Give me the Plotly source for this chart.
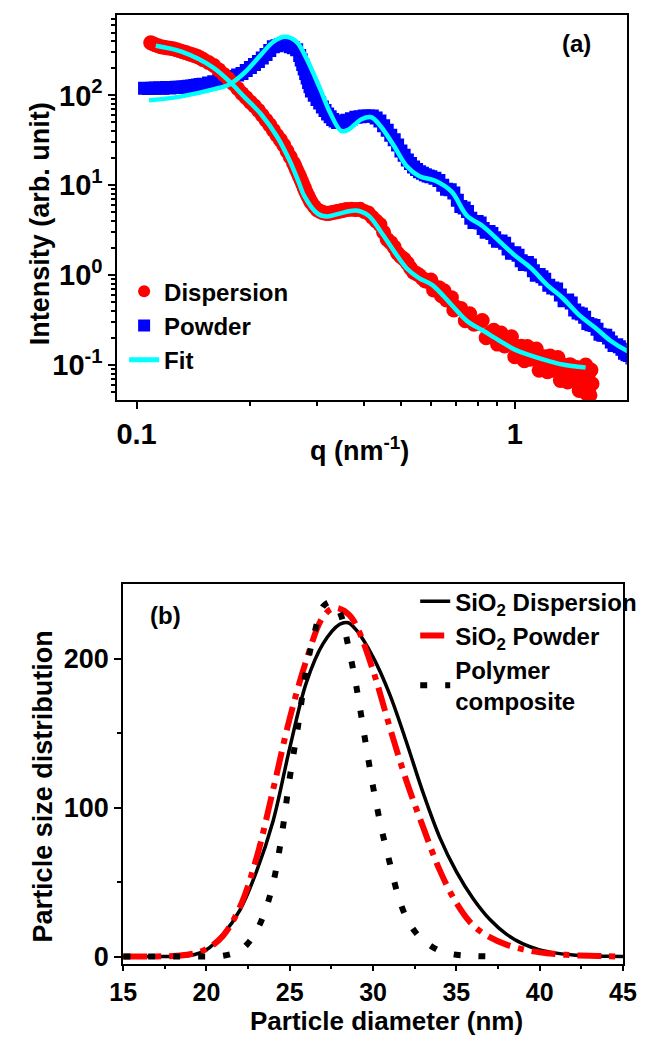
import plotly.graph_objects as go

# ---------------- panel (a): SAXS intensity vs q ----------------
q_disp = [0.109, 0.1105, 0.112, 0.114, 0.116, 0.118, 0.12, 0.1225, 0.125, 0.1275,
          0.13, 0.1325, 0.135, 0.1375, 0.14, 0.1425, 0.145, 0.1475, 0.15, 0.155,
          0.16, 0.165, 0.17, 0.175, 0.18, 0.185, 0.19, 0.195, 0.20, 0.205,
          0.21, 0.215, 0.22, 0.225, 0.23, 0.235, 0.24, 0.245, 0.25, 0.255,
          0.26, 0.2625, 0.265, 0.2675, 0.27, 0.2725, 0.275, 0.2775, 0.28, 0.2825,
          0.285, 0.2875, 0.29, 0.295, 0.30, 0.305, 0.31, 0.315, 0.32, 0.325,
          0.33, 0.335, 0.34, 0.345, 0.35, 0.355, 0.36, 0.37, 0.38, 0.39,
          0.40, 0.41, 0.42, 0.43, 0.44, 0.45, 0.46, 0.47, 0.48, 0.49,
          0.50, 0.51, 0.52, 0.53, 0.54, 0.55, 0.56, 0.57, 0.58, 0.59,
          0.60, 0.61, 0.62, 0.63, 0.64, 0.65, 0.66, 0.67, 0.68, 0.69,
          0.70, 0.72, 0.74, 0.76, 0.78, 0.80, 0.82, 0.84, 0.86, 0.88,
          0.90, 0.92, 0.94, 0.96, 0.98, 1.00, 1.02, 1.04, 1.06, 1.08,
          1.10, 1.12, 1.14, 1.16, 1.18, 1.20, 1.22, 1.24, 1.26, 1.28,
          1.30, 1.32, 1.34, 1.36, 1.38, 1.40, 1.42, 1.44, 1.46, 1.48,
          1.50, 1.52, 1.54, 1.55, 1.56, 1.57, 1.58, 1.59, 1.60]
i_disp = [385, 375, 366, 357, 348, 343, 339, 335, 331, 322,
          314, 306, 299, 291, 284, 277, 270, 260, 250, 232,
          215, 192, 171, 152, 136, 119, 105, 94, 84, 76,
          68, 60, 53, 47, 41, 36, 32, 28, 24, 20.6,
          17.7, 16.2, 14.8, 13.5, 12.4, 11.3, 10.3, 9.4, 8.5, 7.9,
          7.3, 6.8, 6.4, 5.8, 5.36, 5.15, 4.97, 4.9, 4.84, 4.9,
          4.97, 5.03, 5.10, 5.16, 5.23, 5.3, 5.36, 5.4, 5.36, 5.4,
          5.1, 4.9, 4.4, 4.0, 3.65, 3.0, 2.5, 2.3, 2.05, 1.75,
          1.6, 1.5, 1.36, 1.2, 1.08, 1.04, 0.99, 0.92, 0.86, 0.85,
          0.881, 0.684, 0.72, 0.726, 0.59, 0.670, 0.529, 0.538, 0.562, 0.410,
          0.44, 0.427, 0.312, 0.372, 0.284, 0.292, 0.313, 0.201, 0.229, 0.244,
          0.171, 0.227, 0.163, 0.178, 0.206, 0.124, 0.148, 0.162, 0.112, 0.161,
          0.116, 0.126, 0.151, 0.0877, 0.110, 0.124, 0.0841, 0.126, 0.0876, 0.0989,
          0.121, 0.0673, 0.086, 0.0988, 0.0648, 0.101, 0.068, 0.0777, 0.0937, 0.0522,
          0.067, 0.0869, 0.10, 0.048, 0.075, 0.055, 0.046, 0.088, 0.062]

q_powd = [0.105, 0.1075, 0.11, 0.1125, 0.115, 0.1175, 0.12, 0.1225, 0.125, 0.1275,
          0.13, 0.1325, 0.135, 0.1375, 0.14, 0.1425, 0.145, 0.1475, 0.15, 0.155,
          0.16, 0.165, 0.17, 0.175, 0.18, 0.185, 0.19, 0.195, 0.20, 0.205,
          0.21, 0.215, 0.22, 0.225, 0.23, 0.235, 0.24, 0.245, 0.25, 0.255,
          0.26, 0.265, 0.27, 0.2725, 0.275, 0.2775, 0.28, 0.2825, 0.285, 0.2875,
          0.29, 0.295, 0.30, 0.305, 0.31, 0.315, 0.32, 0.325, 0.33, 0.335,
          0.34, 0.345, 0.35, 0.355, 0.36, 0.37, 0.38, 0.39, 0.40, 0.41,
          0.42, 0.43, 0.44, 0.45, 0.46, 0.47, 0.48, 0.49, 0.50, 0.51,
          0.52, 0.53, 0.54, 0.55, 0.56, 0.57, 0.58, 0.59, 0.60, 0.615,
          0.63, 0.645, 0.66, 0.675, 0.69, 0.705, 0.72, 0.735, 0.75, 0.765,
          0.78, 0.795, 0.81, 0.825, 0.84, 0.855, 0.87, 0.885, 0.90, 0.92,
          0.94, 0.96, 0.98, 1.00, 1.02, 1.04, 1.06, 1.08, 1.10, 1.12,
          1.14, 1.16, 1.18, 1.20, 1.23, 1.26, 1.29, 1.32, 1.35, 1.38,
          1.41, 1.44, 1.47, 1.50, 1.53, 1.56, 1.59, 1.62, 1.65, 1.68,
          1.71, 1.74, 1.77, 1.80, 1.83, 1.86, 1.89, 1.92, 1.95, 1.98,
          2.01, 2.04]
i_powd = [120, 119, 120, 121, 121, 120, 122, 121, 122, 123,
          123, 124, 125, 126, 127, 129, 130, 132, 133, 137,
          142, 147, 152, 157, 162, 168, 175, 189, 204, 220,
          238, 260, 284, 315, 347, 357, 366, 376, 366, 347,
          339, 322, 277, 248, 220, 196, 175, 156, 139, 125,
          112, 100, 90, 82, 74, 68, 62, 58, 54, 52,
          50, 50, 50, 51, 53, 55, 57, 58, 59, 59,
          59, 56, 52, 46, 41, 36, 32, 28, 24, 21.5,
          19.1, 17.5, 16.0, 15.0, 14.1, 13.6, 13.1, 12.7, 12.4, 12.0,
          11.3, 10.0, 9.0, 8.9, 8.2, 6.8, 5.8, 5.6, 5.1, 4.3,
          3.85, 3.95, 3.8, 3.3, 3.0, 3.05, 2.9, 2.6, 2.38, 2.4,
          2.26, 1.95, 1.75, 1.78, 1.66, 1.45, 1.31, 1.38, 1.30, 1.12,
          1.0, 1.02, 0.96, 0.90, 0.77, 0.72, 0.70, 0.60, 0.52, 0.53,
          0.49, 0.41, 0.38, 0.37, 0.34, 0.29, 0.28, 0.275, 0.25, 0.22,
          0.215, 0.215, 0.20, 0.18, 0.165, 0.168, 0.16, 0.15, 0.135, 0.13,
          0.128, 0.12]

q_fit_disp = [0.1124, 0.1315, 0.1594, 0.176, 0.1932, 0.2134, 0.2356, 0.2542, 0.2694, 0.2773,
              0.301, 0.319, 0.3441, 0.38, 0.41, 0.442, 0.4797, 0.5175, 0.5582, 0.6056,
              0.6808, 0.747, 0.8251, 0.911, 1.0, 1.104, 1.219, 1.339, 1.539]
i_fit_disp = [357, 306, 204, 143, 95, 61.7, 34.4, 18.6, 10.4, 7.66,
              4.84, 4.49, 4.84, 5.23, 4.60, 3.06, 1.84, 1.195, 0.927, 0.775,
              0.466, 0.310, 0.2405, 0.1865, 0.1484, 0.1274, 0.1121, 0.1013, 0.0938]

q_fit_powd = [0.1079, 0.1315, 0.1594, 0.176, 0.1932, 0.2134, 0.2301, 0.2468, 0.2647, 0.2806,
              0.3062, 0.3245, 0.3481, 0.3648, 0.3935, 0.4173, 0.442, 0.4797, 0.5175, 0.5582,
              0.6164, 0.6808, 0.747, 0.8251, 0.911, 1.0, 1.104, 1.219, 1.339, 1.478,
              1.632, 1.791, 1.978, 2.1]
i_fit_powd = [88.1, 97.5, 116.5, 132.3, 179.5, 283.8, 395, 448.7, 395, 263,
              116.5, 64.9, 40.0, 42.1, 54.3, 57.1, 45.4, 27.3, 16.4, 12.7,
              11.2, 8.48, 4.60, 3.48, 2.38, 1.66, 1.195, 0.775, 0.557, 0.361,
              0.260, 0.1865, 0.1446, 0.13]

# ---------------- panel (b): particle size distributions ----------------
d_disp = [15, 16, 17, 18, 19, 20, 21, 22, 23, 24, 25, 26, 27, 28, 28.5, 29,
          30, 31, 32, 33, 34, 35, 36, 37, 38, 39, 40, 41, 42, 43, 44, 45]
p_disp = [0, 0, 0, 0.1, 0.6, 4.5, 15, 31, 57, 91, 140, 184, 210, 223, 224, 219,
          201, 176, 144, 110, 80, 57, 39, 25, 15, 8.5, 4.5, 2.3, 1.1, 0.5, 0.2, 0]

d_powd = [15, 16, 17, 18, 19, 20, 21, 22, 23, 24, 25, 26, 27, 27.7, 28.5, 29,
          30, 31, 32, 33, 34, 35, 36, 37, 38, 39, 40, 41, 42, 43, 44, 45]
p_powd = [0, 0, 0.1, 0.4, 1.5, 5, 14, 33, 66, 112, 160, 199, 228, 234, 230, 222,
          192, 154, 118, 87, 58, 36, 21, 13, 8, 4.8, 2.8, 1.6, 0.9, 0.5, 0.2, 0]

d_poly = [15, 16, 17, 18, 19, 20, 21, 22, 22.5, 23, 23.5, 24, 24.5, 25, 25.5, 26, 26.5,
          27, 27.5, 28, 28.5, 29, 29.5, 30, 30.5, 31, 31.5, 32, 32.5, 33, 34, 35, 36, 37]
p_poly = [0, 0, 0, 0, 0, 0, 0.5, 4, 9, 17, 30, 49, 80, 120, 155, 193, 218,
          235, 238, 231, 209, 181, 147, 114, 86, 63, 41, 26, 17, 11, 3.8, 1.2, 0.4, 0.1]

W, H = 659, 1042
FONT = "Liberation Sans, Arial, sans-serif"


def px(x):
    return x / W


def py(y):
    return 1 - y / H


fig = go.Figure()

# panel (a) traces
fig.add_trace(go.Scatter(
    x=q_powd, y=i_powd, mode="markers", name="Powder", legendrank=2,
    marker=dict(symbol="square", size=13, color="#0000ff", line=dict(width=0)),
    xaxis="x", yaxis="y", legend="legend"))
fig.add_trace(go.Scatter(
    x=q_disp, y=i_disp, mode="markers", name="Dispersion", legendrank=1,
    marker=dict(symbol="circle", size=15, color="#ff0000", line=dict(width=0)),
    xaxis="x", yaxis="y", legend="legend"))
fig.add_trace(go.Scatter(
    x=q_fit_powd, y=i_fit_powd, mode="lines", name="Fit", legendrank=3,
    line=dict(color="#00ffff", width=4.5, shape="spline"),
    xaxis="x", yaxis="y", legend="legend"))
fig.add_trace(go.Scatter(
    x=q_fit_disp, y=i_fit_disp, mode="lines", name="Fit", showlegend=False,
    line=dict(color="#00ffff", width=4.5, shape="spline"),
    xaxis="x", yaxis="y"))

# panel (b) traces
fig.add_trace(go.Scatter(
    x=d_disp, y=p_disp, mode="lines", name="SiO<sub>2</sub> Dispersion",
    line=dict(color="black", width=3.5, shape="spline"),
    xaxis="x2", yaxis="y2", legend="legend2"))
fig.add_trace(go.Scatter(
    x=d_powd, y=p_powd, mode="lines", name="SiO<sub>2</sub> Powder",
    line=dict(color="#ff0000", width=6, shape="spline", dash="24px,8px,6px,8px"),
    xaxis="x2", yaxis="y2", legend="legend2"))
fig.add_trace(go.Scatter(
    x=d_poly, y=p_poly, mode="lines", name="Polymer<br>composite",
    line=dict(color="black", width=6, shape="spline", dash="7px,18px"),
    xaxis="x2", yaxis="y2", legend="legend2"))

axis_common = dict(showline=True, linewidth=2, linecolor="black", mirror=True,
                   showgrid=False, zeroline=False, ticks="outside", ticklen=7,
                   tickwidth=2, tickcolor="black")

log_minor_y = [0.05, 0.06, 0.07, 0.08, 0.09] + \
    [m * 10 ** e for e in (-1, 0, 1, 2) for m in range(2, 10)]
log_minor_x = [0.2, 0.3, 0.4, 0.5, 0.6, 0.7, 0.8, 0.9, 2]

fig.update_layout(
    width=W, height=H, margin=dict(l=0, r=0, t=0, b=0),
    plot_bgcolor="white", paper_bgcolor="white",
    font=dict(family=FONT, size=27, color="black", weight="bold"),
    xaxis=dict(type="log", domain=[px(108), px(640)], range=[-1.0506, 0.2962],
               anchor="y", tickvals=[0.1, 1], ticktext=["0.1", "1"],
               tickfont=dict(size=29),
               minor=dict(tickvals=log_minor_x, ticks="outside", ticklen=4,
                          tickwidth=1.5, tickcolor="black"),
               **axis_common),
    yaxis=dict(type="log", domain=[py(403), py(15)], range=[-1.392, 2.895],
               anchor="x", tickvals=[0.1, 1, 10, 100],
               ticktext=["10<sup>-1</sup>", "10<sup>0</sup>", "10<sup>1</sup>", "10<sup>2</sup>"],
               tickfont=dict(size=29),
               minor=dict(tickvals=log_minor_y, ticks="outside", ticklen=4,
                          tickwidth=1.5, tickcolor="black"),
               **axis_common),
    xaxis2=dict(domain=[px(114), px(636)], range=[15, 45], anchor="y2",
                tickvals=[15, 20, 25, 30, 35, 40, 45], tickfont=dict(size=25),
                minor=dict(tickvals=[17.5, 22.5, 27.5, 32.5, 37.5, 42.5],
                           ticks="outside", ticklen=3, tickwidth=1.5, tickcolor="black"),
                **{**axis_common, "ticklen": 5}),
    yaxis2=dict(domain=[py(971), py(588)], range=[-5.33, 250], anchor="x2",
                tickvals=[0, 100, 200], tickfont=dict(size=27),
                minor=dict(tickvals=[50, 150], ticks="outside", ticklen=4,
                           tickwidth=1.5, tickcolor="black"),
                **axis_common),
    legend=dict(x=px(115), y=py(271), xanchor="left", yanchor="top",
                bgcolor="rgba(0,0,0,0)", font=dict(size=24, family=FONT, weight="bold"),
                itemsizing="constant", tracegroupgap=0),
    legend2=dict(x=px(419), y=py(583), xanchor="left", yanchor="top",
                 bgcolor="rgba(0,0,0,0)", font=dict(size=24, family=FONT, weight="bold"),
                 tracegroupgap=0),
    showlegend=True,
)

annotations = [
    dict(text="Intensity (arb. unit)", x=px(28), y=py(225), textangle=-90, font=dict(size=27)),
    dict(text="q (nm<sup>-1</sup>)", x=px(361), y=py(452), font=dict(size=27)),
    dict(text="(a)", x=px(587), y=py(44), font=dict(size=24)),
    dict(text="Particle size distribution", x=px(30), y=py(792), textangle=-90, font=dict(size=27)),
    dict(text="Particle diameter (nm)", x=px(389), y=py(1028), font=dict(size=26)),
    dict(text="(b)", x=px(158), y=py(620), font=dict(size=24)),
]
for a in annotations:
    fig.add_annotation(xref="paper", yref="paper", xanchor="center", yanchor="middle",
                       showarrow=False, **a)

fig.write_html("out.html")
